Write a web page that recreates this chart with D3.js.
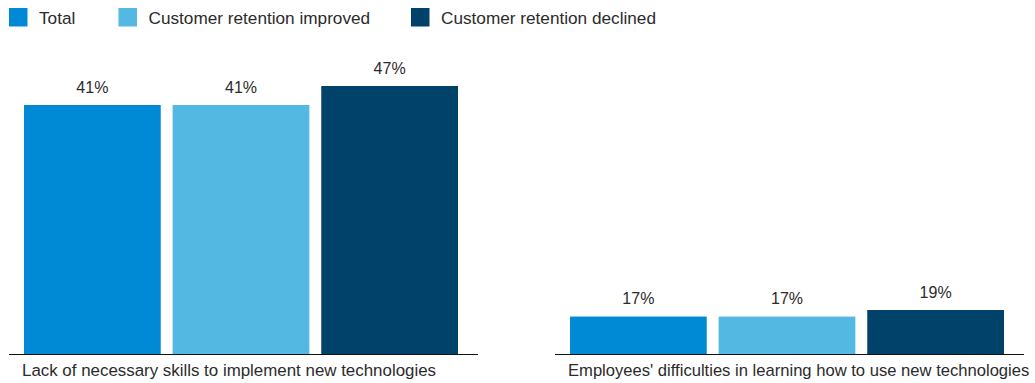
<!DOCTYPE html>
<html>
<head>
<meta charset="utf-8">
<script src="https://cdn.jsdelivr.net/npm/d3@7"></script>
<style>
  html, body { margin: 0; padding: 0; background: #fff; }
  svg { display: block; font-family: "Liberation Sans", Arial, Helvetica, sans-serif; }
</style>
</head>
<body>
<svg id="chart" width="1035" height="383"></svg>
<script>
// Survey categories (one panel each) and the three comparison series
const categories = [
  "Lack of necessary skills to implement new technologies",
  "Employees' difficulties in learning how to use new technologies"
];
const seriesNames = ["Total", "Customer retention improved", "Customer retention declined"];
const seriesColors = ["#0089d4", "#53b8e2", "#00426a"];

// Share of respondents (%) per series, in category order
const totalValues    = [41, 17];
const improvedValues = [41, 17];
const declinedValues = [47, 19];

const valuesBySeries = [totalValues, improvedValues, declinedValues];

const svg = d3.select("#chart");
const textColor = "#2b2b2b";

// ---- Legend ----
const legendX = [9, 118.5, 411];
const legend = svg.append("g").attr("class", "legend");
seriesNames.forEach((name, i) => {
  const g = legend.append("g").attr("transform", `translate(${legendX[i]},0)`);
  g.append("rect")
    .attr("x", 0).attr("y", 8)
    .attr("width", 18.5).attr("height", 18.5)
    .attr("fill", seriesColors[i]);
  g.append("text")
    .attr("x", 30).attr("y", 23.5)
    .attr("font-size", 17.2)
    .attr("fill", textColor)
    .text(name);
});

// ---- Panels ----
const baseline = 354;
const panelX = [9, 555];
const panelWidth = 469;

// Each panel has its own value scale (no axis is drawn)
const yDomains = [[-37.6, 47], [5.6, 19]];
const topPx = [86, 310];
const labelSizes = [16.9, 16.6];

const x = d3.scaleBand()
  .domain(seriesNames)
  .range([15, 449])
  .paddingInner(0.08);

categories.forEach((cat, ci) => {
  const g = svg.append("g").attr("transform", `translate(${panelX[ci]},0)`);

  const y = d3.scaleLinear()
    .domain(yDomains[ci])
    .range([baseline, topPx[ci]]);

  const rows = seriesNames.map((s, si) => ({ series: s, value: valuesBySeries[si][ci], color: seriesColors[si] }));

  g.selectAll("rect.bar")
    .data(rows)
    .join("rect")
    .attr("class", "bar")
    .attr("x", d => x(d.series))
    .attr("y", d => y(d.value))
    .attr("width", x.bandwidth())
    .attr("height", d => baseline - y(d.value))
    .attr("fill", d => d.color);

  g.selectAll("text.val")
    .data(rows)
    .join("text")
    .attr("class", "val")
    .attr("x", d => x(d.series) + x.bandwidth() / 2)
    .attr("y", d => y(d.value) - 12.5)
    .attr("text-anchor", "middle")
    .attr("font-size", 16)
    .attr("fill", textColor)
    .text(d => d.value + "%");

  // Baseline
  g.append("line")
    .attr("x1", 0).attr("x2", panelWidth)
    .attr("y1", baseline + 0.5).attr("y2", baseline + 0.5)
    .attr("stroke", "#111")
    .attr("stroke-width", 1);

  // Category label
  g.append("text")
    .attr("x", x(seriesNames[0]) - 2)
    .attr("y", 375.8)
    .attr("font-size", labelSizes[ci])
    .attr("fill", textColor)
    .text(cat);
});
</script>
</body>
</html>
